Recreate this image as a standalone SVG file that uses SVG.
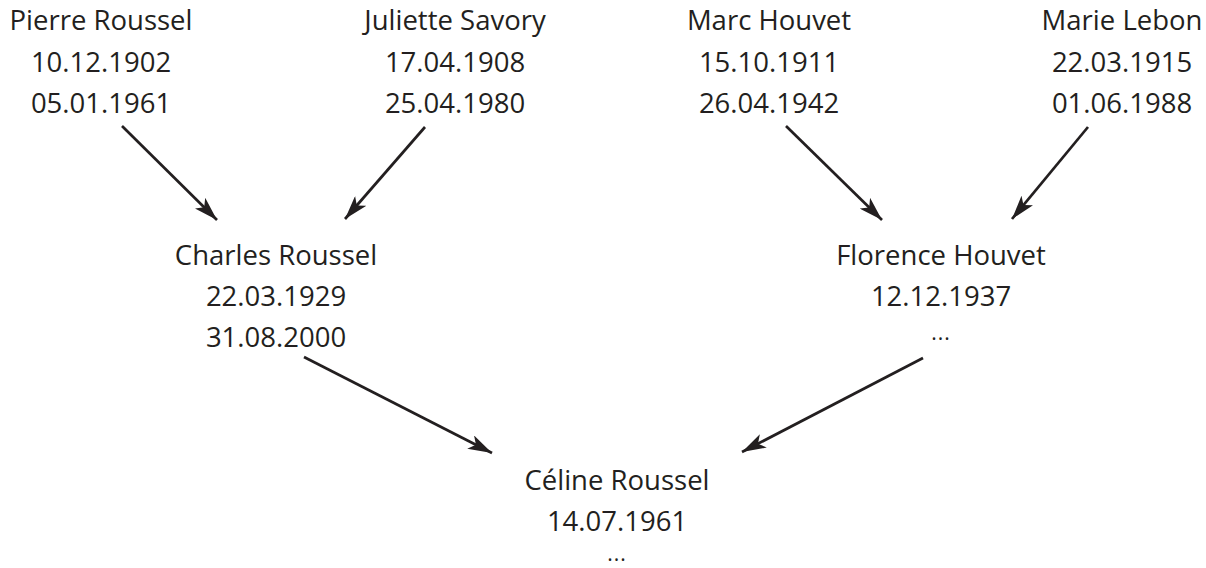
<svg xmlns="http://www.w3.org/2000/svg" width="1206" height="568" viewBox="0 0 1206 568">
<style>
text{font-family:"Open Sans","Noto Sans",sans-serif;font-size:27.5px;fill:#231f20;text-anchor:middle}
text.dots{font-size:21px;letter-spacing:1px}
.c line{stroke:#231f20;stroke-width:2.7}
</style>
<defs>
<marker id="ah" viewBox="0 0 24 15" refX="24" refY="7.5" markerWidth="24" markerHeight="15" markerUnits="userSpaceOnUse" orient="auto">
<path d="M0,0 L24,7.5 L0,15 L6,7.5 Z" fill="#231f20"/>
</marker>
</defs>
<rect width="1206" height="568" fill="#fff"/>
<g id="pierre"><text x="101" y="30">Pierre Roussel</text><text x="101" y="72">10.12.1902</text><text x="101" y="113">05.01.1961</text></g>
<g id="juliette"><text x="455" y="30">Juliette Savory</text><text x="455" y="72">17.04.1908</text><text x="455" y="113">25.04.1980</text></g>
<g id="marc"><text x="769" y="30">Marc Houvet</text><text x="769" y="72">15.10.1911</text><text x="769" y="113">26.04.1942</text></g>
<g id="marie"><text x="1122" y="30">Marie Lebon</text><text x="1122" y="72">22.03.1915</text><text x="1122" y="113">01.06.1988</text></g>
<g id="charles"><text x="276" y="265">Charles Roussel</text><text x="276" y="306">22.03.1929</text><text x="276" y="347">31.08.2000</text></g>
<g id="florence"><text x="941" y="265">Florence Houvet</text><text x="941" y="306">12.12.1937</text><text class="dots" x="941" y="340">...</text></g>
<g id="celine"><text x="617" y="490">Céline Roussel</text><text x="617" y="531">14.07.1961</text><text class="dots" x="617" y="561">...</text></g>
<g class="c" id="connectors">
<line x1="122" y1="126" x2="217" y2="220" marker-end="url(#ah)"/>
<line x1="425" y1="127" x2="345" y2="219" marker-end="url(#ah)"/>
<line x1="786" y1="126" x2="882" y2="220" marker-end="url(#ah)"/>
<line x1="1088" y1="127" x2="1012" y2="219" marker-end="url(#ah)"/>
<line x1="304" y1="357" x2="492" y2="453" marker-end="url(#ah)"/>
<line x1="923" y1="358" x2="742" y2="452" marker-end="url(#ah)"/>
</g>
</svg>
